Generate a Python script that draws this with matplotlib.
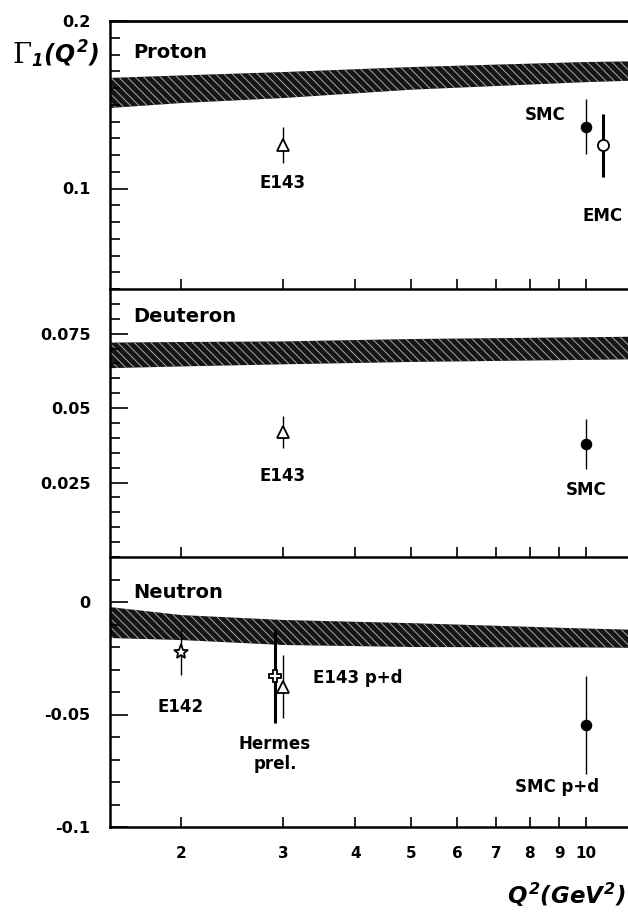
import numpy as np
import matplotlib
matplotlib.use("Agg")
import matplotlib.pyplot as plt
from matplotlib.ticker import FixedLocator, NullFormatter

plt.rcParams["font.family"] = ["DejaVu Sans"]
plt.rcParams["font.weight"] = "bold"
plt.rcParams["mathtext.fontset"] = "custom"
plt.rcParams["mathtext.rm"] = "DejaVu Sans:italic:bold"
plt.rcParams["mathtext.it"] = "DejaVu Sans:italic:bold"
plt.rcParams["mathtext.bf"] = "DejaVu Sans:italic:bold"
plt.rcParams["hatch.linewidth"] = 0.7

# theory bands (upper / lower edge) at a few Q^2 values
band_q2 = [1.5, 2, 3, 5, 10, 12.4]

proton_band_hi = [0.166, 0.1675, 0.1695, 0.1725, 0.1755, 0.176]
proton_band_lo = [0.148, 0.151, 0.154, 0.159, 0.1635, 0.1645]

deuteron_band_hi = [0.072, 0.0722, 0.0724, 0.0732, 0.0738, 0.074]
deuteron_band_lo = [0.0634, 0.064, 0.0647, 0.0655, 0.0662, 0.0664]

neutron_band_hi = [-0.0022, -0.0058, -0.008, -0.0094, -0.0118, -0.0124]
neutron_band_lo = [-0.016, -0.0169, -0.0191, -0.020, -0.0202, -0.0204]

# measurements: Q^2, Gamma_1, error
proton_e143 = (3.0, 0.126, 0.0105)
proton_smc = (10.0, 0.137, 0.0165)
proton_emc = (10.7, 0.1257, 0.019)

deuteron_e143 = (3.0, 0.042, 0.0053)
deuteron_smc = (10.0, 0.038, 0.0083)

neutron_e142 = (2.0, -0.0222, 0.0103)
neutron_hermes = (2.906, -0.0331, 0.0207)
neutron_e143 = (3.0, -0.0376, 0.014)
neutron_smc = (10.0, -0.0547, 0.0218)

x_ticks = [2, 3, 4, 5, 6, 7, 8, 9, 10]
x_tick_labels = ["2", "3", "4", "5", "6", "7", "8", "9", "10"]

W, H = 628, 916
fig = plt.figure(figsize=(W / 100, H / 100), dpi=100)

left = 110 / W
width = 530 / W


def make_axes(top_px, bottom_px):
    return fig.add_axes([left, 1 - bottom_px / H, width, (bottom_px - top_px) / H])


ax_p = make_axes(21, 289)
ax_d = make_axes(289, 557)
ax_n = make_axes(557, 827)


def style_axes(ax, ylim, majors, major_labels, minor_step, show_x_labels, top_spine):

    ax.set_xscale("log")
    ax.set_xlim(1.508, 12.41)
    ax.set_ylim(*ylim)

    ax.xaxis.set_major_locator(FixedLocator(x_ticks))
    ax.xaxis.set_minor_locator(FixedLocator([]))
    if show_x_labels:
        ax.set_xticklabels(x_tick_labels)
    else:
        ax.xaxis.set_major_formatter(NullFormatter())
    ax.xaxis.set_minor_formatter(NullFormatter())

    ax.set_yticks(majors)
    ax.set_yticklabels(major_labels)
    minors = np.arange(ylim[0], ylim[1] + minor_step / 2, minor_step)
    ax.set_yticks(minors, minor=True)

    ax.tick_params(axis="x", which="both", direction="in", length=7,
                   width=1.2, pad=14, labelsize=11, top=False)
    ax.tick_params(axis="y", which="major", direction="in", length=13,
                   width=1.2, pad=14, labelsize=11.5, right=False)
    ax.tick_params(axis="y", which="minor", direction="in", length=7,
                   width=1.2, right=False)

    for lab in ax.get_xticklabels() + ax.get_yticklabels():
        lab.set_fontweight("bold")

    ax.spines["left"].set_linewidth(1.8)
    ax.spines["bottom"].set_linewidth(1.8)
    ax.spines["right"].set_visible(False)
    ax.spines["top"].set_visible(top_spine)
    ax.spines["top"].set_linewidth(2.0)
    ax.patch.set_alpha(0)


def draw_band(ax, hi, lo):
    ax.fill_between(
        band_q2,
        lo,
        hi,
        facecolor="#151515",
        edgecolor="#a8a8a8",
        hatch="\\\\\\\\",
        linewidth=0,
        zorder=1
    )


def draw_point(ax, point, marker, filled, ms, elw):
    q, v, e = point
    ax.errorbar(
        [q],
        [v],
        yerr=[e],
        fmt=marker,
        color="black",
        mfc="black" if filled else "white",
        mec="black",
        mew=1.3,
        ms=ms,
        elinewidth=elw,
        capsize=0,
        zorder=3
    )


# PROTON
style_axes(ax_p, (0.04, 0.2), [0.1, 0.2], ["0.1", "0.2"], 0.01, False, True)
draw_band(ax_p, proton_band_hi, proton_band_lo)
draw_point(ax_p, proton_e143, "^", False, 8, 1.0)
draw_point(ax_p, proton_smc, "o", True, 7, 1.0)
draw_point(ax_p, proton_emc, "o", False, 8, 2.2)

ax_p.text(1.652, 0.1814, "Proton", fontsize=14, fontweight="bold", va="center")
ax_p.text(3.0, 0.103, "E143", fontsize=12, fontweight="bold", ha="center", va="center")
ax_p.text(8.51, 0.1437, "SMC", fontsize=12, fontweight="bold", ha="center", va="center")
ax_p.text(10.7, 0.0838, "EMC", fontsize=12, fontweight="bold", ha="center", va="center")

# DEUTERON
style_axes(ax_d, (0.0, 0.09), [0.025, 0.05, 0.075], ["0.025", "0.05", "0.075"],
           0.005, False, False)
draw_band(ax_d, deuteron_band_hi, deuteron_band_lo)
draw_point(ax_d, deuteron_e143, "^", False, 8, 1.0)
draw_point(ax_d, deuteron_smc, "o", True, 7, 1.0)

ax_d.text(1.652, 0.0806, "Deuteron", fontsize=14, fontweight="bold", va="center")
ax_d.text(3.0, 0.0273, "E143", fontsize=12, fontweight="bold", ha="center", va="center")
ax_d.text(10.0, 0.0224, "SMC", fontsize=12, fontweight="bold", ha="center", va="center")

# NEUTRON
style_axes(ax_n, (-0.1, 0.02), [-0.1, -0.05, 0.0], ["-0.1", "-0.05", "0"],
           0.01, True, False)
draw_band(ax_n, neutron_band_hi, neutron_band_lo)
draw_point(ax_n, neutron_e142, "*", False, 11, 1.0)
draw_point(ax_n, neutron_hermes, "P", False, 9, 2.2)
draw_point(ax_n, neutron_e143, "^", False, 8, 1.0)
draw_point(ax_n, neutron_smc, "o", True, 7, 1.0)

ax_n.text(1.652, 0.0044, "Neutron", fontsize=14, fontweight="bold", va="center")
ax_n.text(2.0, -0.0467, "E142", fontsize=12, fontweight="bold", ha="center", va="center")
ax_n.text(2.906, -0.0676, "Hermes\nprel.", fontsize=12, fontweight="bold",
          ha="center", va="center", linespacing=1.1)
ax_n.text(3.38, -0.0338, "E143 p+d", fontsize=12, fontweight="bold", va="center")
ax_n.text(8.92, -0.0822, "SMC p+d", fontsize=12, fontweight="bold", ha="center", va="center")

# axis titles
fig.text(12 / W, 1 - 63 / H, "\u0393", family="DejaVu Serif", fontweight="normal",
         fontsize=20, ha="left", va="baseline")
fig.text(31 / W, 1 - 63 / H, r"${}_{1}(Q^{2})$", fontsize=17, ha="left", va="baseline")
fig.text(626 / W, 1 - 895 / H, r"$Q^{2}(GeV^{2})$",
         fontsize=16.5, ha="right", va="center")

fig.savefig("out.png", dpi=100)
